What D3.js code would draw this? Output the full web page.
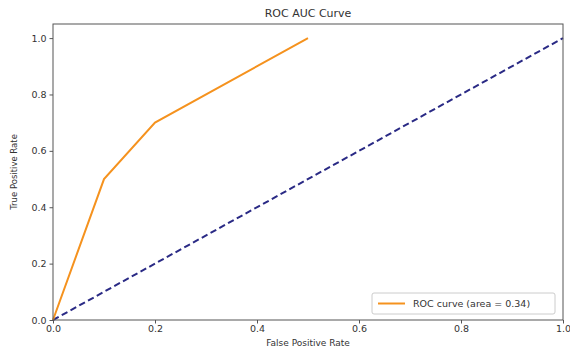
<!DOCTYPE html>
<html><head><meta charset="utf-8">
<script src="https://cdn.jsdelivr.net/npm/d3@7"></script>
<style>body{margin:0;background:#fff}svg{display:block}text{font-family:"DejaVu Sans",sans-serif}</style>
</head><body>
<script>
const fpr = [0, 0.1, 0.2, 0.5];
const tpr = [0, 0.5, 0.7, 1.0];
const diagX = [0, 1];
const diagY = [0, 1];
const xTicks = [0, 0.2, 0.4, 0.6, 0.8, 1.0];
const yTicks = [0, 0.2, 0.4, 0.6, 0.8, 1.0];
const title = "ROC AUC Curve";
const xLabel = "False Positive Rate";
const yLabel = "True Positive Rate";
const legendLabel = "ROC curve (area = 0.34)";

const W = 570, H = 351;
const m = {left: 53, right: 7, top: 24, bottom: 31};
const svg = d3.select("body").append("svg").attr("width", W).attr("height", H);
const x = d3.scaleLinear().domain([0, 1]).range([m.left, W - m.right]);
const y = d3.scaleLinear().domain([0, 1.05]).range([H - m.bottom, m.top]);

const axisColor = "#555";
const gx = svg.append("g").attr("transform", `translate(0,${H - m.bottom})`)
  .call(d3.axisBottom(x).tickValues(xTicks).tickFormat(d3.format(".1f")).tickSize(3.5).tickPadding(2));
const gy = svg.append("g").attr("transform", `translate(${m.left},0)`)
  .call(d3.axisLeft(y).tickValues(yTicks).tickFormat(d3.format(".1f")).tickSize(3.5).tickPadding(3));
[gx, gy].forEach(g => {
  g.select(".domain").remove();
  g.selectAll("line").attr("stroke", axisColor);
  g.selectAll("text").attr("fill", "#333").style("font-size", "9.5px");
});

const line = d3.line().x(d => x(d[0])).y(d => y(d[1]));
svg.append("path").datum(diagX.map((v, i) => [v, diagY[i]]))
  .attr("d", line).attr("fill", "none").attr("stroke", "#2a2a85")
  .attr("stroke-width", 2).attr("stroke-dasharray", "6.5,3.5");
svg.append("path").datum(fpr.map((v, i) => [v, tpr[i]]))
  .attr("d", line).attr("fill", "none").attr("stroke", "#f5921e")
  .attr("stroke-width", 2);

svg.append("rect").attr("x", m.left).attr("y", m.top)
  .attr("width", W - m.left - m.right).attr("height", H - m.top - m.bottom)
  .attr("fill", "none").attr("stroke", axisColor).attr("stroke-width", 1);

svg.append("text").attr("x", (m.left + W - m.right) / 2).attr("y", 17)
  .attr("text-anchor", "middle").style("font-size", "11px").attr("fill", "#333").text(title);
svg.append("text").attr("x", (m.left + W - m.right) / 2).attr("y", 346)
  .attr("text-anchor", "middle").style("font-size", "9px").attr("fill", "#333").text(xLabel);
svg.append("text").attr("transform", `translate(17,${(m.top + H - m.bottom) / 2}) rotate(-90)`)
  .attr("text-anchor", "middle").style("font-size", "8.5px").attr("fill", "#333").text(yLabel);

const lg = svg.append("g");
lg.append("rect").attr("x", 372).attr("y", 293).attr("width", 183).attr("height", 21)
  .attr("rx", 2).attr("fill", "#fff").attr("stroke", "#ccc");
lg.append("line").attr("x1", 378).attr("x2", 405).attr("y1", 303.5).attr("y2", 303.5)
  .attr("stroke", "#f5921e").attr("stroke-width", 2);
lg.append("text").attr("x", 413).attr("y", 307).style("font-size", "9.5px").attr("fill", "#333").text(legendLabel);
</script>
</body></html>
